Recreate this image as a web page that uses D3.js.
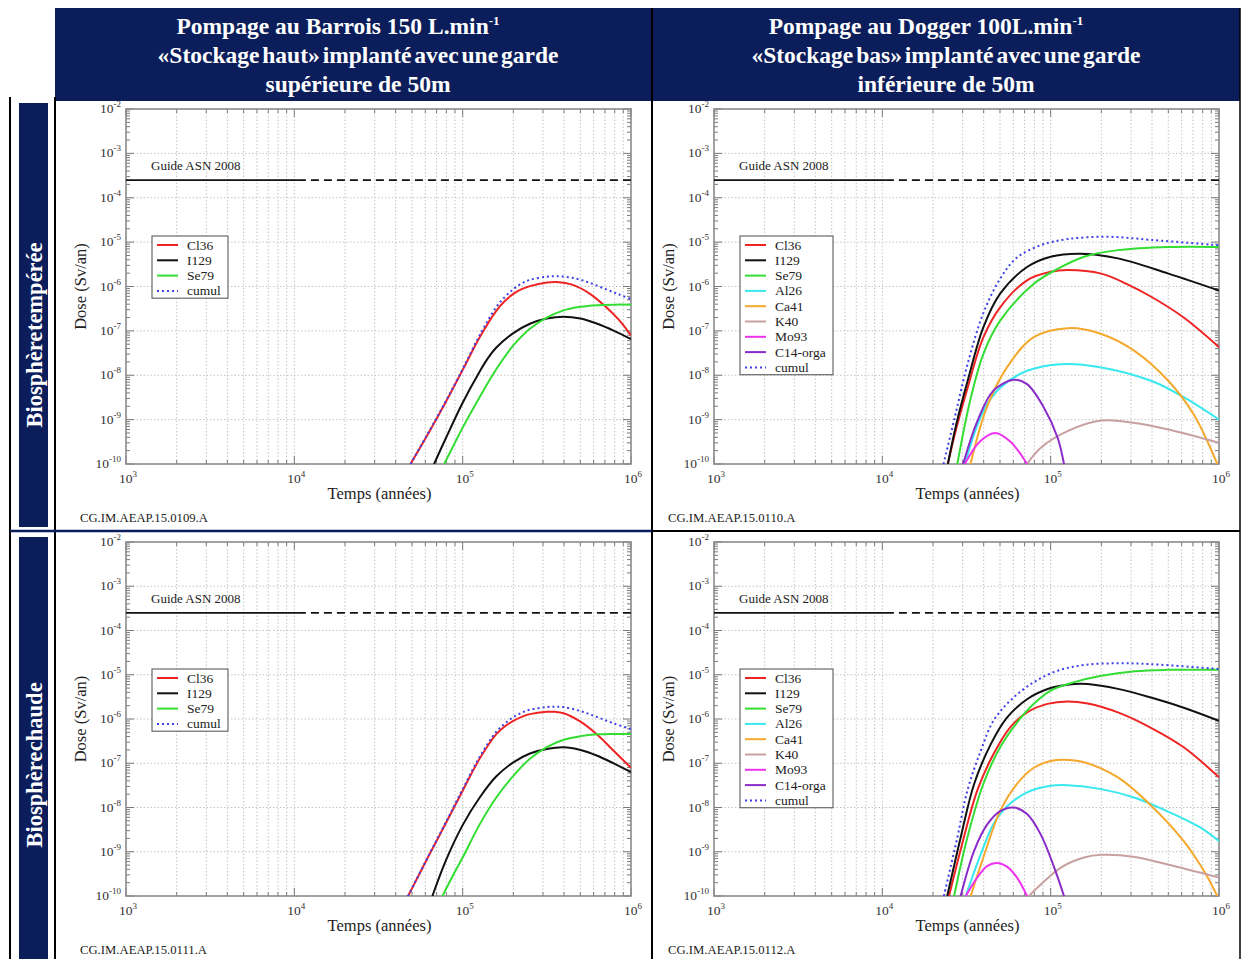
<!DOCTYPE html>
<html><head><meta charset="utf-8">
<script src="https://cdn.jsdelivr.net/npm/d3@7"></script>
<style>body{margin:0;background:#fff}svg{display:block}</style>
</head><body>
<svg id="c" width="1242" height="959"></svg>
<script>
// ---------- labels ----------
const headerLeft = ["Pompage au Barrois 150 L.min", "«Stockage haut» implanté avec une garde", "supérieure de 50m"];
const headerRight = ["Pompage au Dogger 100L.min", "«Stockage bas» implanté avec une garde", "inférieure de 50m"];
const rowLabels = ["Biosphère tempérée", "Biosphère chaude"];
const codes = ["CG.IM.AEAP.15.0109.A", "CG.IM.AEAP.15.0110.A", "CG.IM.AEAP.15.0111.A", "CG.IM.AEAP.15.0112.A"];
const xTickExp = [3, 4, 5, 6];
const yTickExp = [-2, -3, -4, -5, -6, -7, -8, -9, -10];
const guideValue = 2.5e-4;
const guideLabel = "Guide ASN 2008";
const xTitle = "Temps (années)";
const yTitle = "Dose (Sv/an)";
const namesBarrois = ["Cl36", "I129", "Se79", "cumul"];
const namesDogger = ["Cl36", "I129", "Se79", "Al26", "Ca41", "K40", "Mo93", "C14-orga", "cumul"];

// ---------- data: [years, Sv/an] ----------
// Barrois, biosphère tempérée
const p1_Cl36 = [[4.9e4,1e-10],[6.31e4,5.2e-10],[7.94e4,2.5e-9],[1.0e5,1.32e-8],[1.26e5,7.1e-8],[1.58e5,2.8e-7],[1.78e5,4.7e-7],[2.0e5,6.8e-7],[2.24e5,8.7e-7],[2.51e5,1.02e-6],[3.16e5,1.23e-6],[3.63e5,1.26e-6],[4.47e5,1.1e-6],[5.62e5,7.1e-7],[7.08e5,3.5e-7],[8.51e5,1.74e-7],[1e6,7.9e-8]];
const p1_I129 = [[6.76e4,1e-10],[7.94e4,3.8e-10],[1.0e5,2.4e-9],[1.26e5,1.2e-8],[1.41e5,2.4e-8],[1.58e5,4.17e-8],[2.0e5,8.9e-8],[2.51e5,1.45e-7],[3.16e5,1.9e-7],[3.98e5,2.09e-7],[5.01e5,1.9e-7],[6.31e5,1.45e-7],[7.94e5,1.0e-7],[1e6,6.5e-8]];
const p1_Se79 = [[7.76e4,1e-10],[8.91e4,2.8e-10],[1.0e5,6.6e-10],[1.26e5,3.2e-9],[1.58e5,1.35e-8],[2.0e5,4.7e-8],[2.51e5,1.12e-7],[3.16e5,2.0e-7],[3.98e5,2.9e-7],[5.01e5,3.5e-7],[6.31e5,3.8e-7],[7.94e5,3.9e-7],[1e6,3.9e-7]];
const p1_cumul = [[4.9e4,1e-10],[6.31e4,5.4e-10],[7.94e4,2.6e-9],[1.0e5,1.38e-8],[1.26e5,7.9e-8],[1.58e5,3.4e-7],[1.78e5,5.8e-7],[2.0e5,8.7e-7],[2.24e5,1.17e-6],[2.51e5,1.41e-6],[3.16e5,1.66e-6],[3.63e5,1.7e-6],[4.47e5,1.58e-6],[5.62e5,1.23e-6],[7.08e5,8.7e-7],[8.51e5,6.6e-7],[1e6,5.2e-7]];

// Dogger, biosphère tempérée
const p2_Cl36 = [[2.45e4,1e-10],[2.75e4,6.3e-10],[3.21e4,5.2e-9],[3.98e4,7.1e-8],[5.01e4,3.4e-7],[7.24e4,1.38e-6],[1.0e5,2.14e-6],[1.26e5,2.34e-6],[2.0e5,1.95e-6],[2.82e5,1.15e-6],[3.98e5,5.8e-7],[6.17e5,2.0e-7],[1e6,4.3e-8]];
const p2_I129 = [[2.45e4,1e-10],[2.75e4,7.9e-10],[3.21e4,7.4e-9],[3.98e4,1.2e-7],[5.01e4,6.9e-7],[7.24e4,2.75e-6],[1.0e5,4.7e-6],[1.51e5,5.5e-6],[2.51e5,4.3e-6],[5.01e5,1.95e-6],[1e6,8.1e-7]];
const p2_Se79 = [[2.79e4,1e-10],[3.31e4,2.5e-9],[3.98e4,3.0e-8],[5.01e4,1.7e-7],[7.94e4,1.15e-6],[1.1e5,2.5e-6],[1.58e5,4.7e-6],[2.51e5,6.6e-6],[5.01e5,7.8e-6],[1e6,7.8e-6]];
const p2_Al26 = [[3.09e4,1e-10],[3.98e4,1.55e-9],[5.01e4,5.2e-9],[7.24e4,1.26e-8],[1.15e5,1.78e-8],[2.0e5,1.5e-8],[3.98e5,7.4e-9],[6.17e5,3.2e-9],[1e6,1.0e-9]];
const p2_Ca41 = [[3.34e4,1e-10],[4.17e4,1.86e-9],[5.5e4,1.5e-8],[7.94e4,7.2e-8],[1.26e5,1.15e-7],[2.0e5,8.5e-8],[3.16e5,3.5e-8],[5.01e5,7.4e-9],[7.08e5,1.3e-9],[9.77e5,1e-10]];
const p2_K40 = [[7.24e4,1e-10],[8.71e4,2.3e-10],[1.26e5,5.5e-10],[2.0e5,9.5e-10],[3.09e5,8.5e-10],[5.01e5,6.0e-10],[1e6,3.0e-10]];
const p2_Mo93 = [[3.09e4,1e-10],[3.8e4,3.2e-10],[4.68e4,5.0e-10],[5.75e4,3.2e-10],[7.24e4,1e-10]];
const p2_C14 = [[3.02e4,1e-10],[3.67e4,9.3e-10],[4.57e4,4.5e-9],[6.03e4,7.9e-9],[7.24e4,6.3e-9],[9.12e4,1.86e-9],[1.1e5,3.9e-10],[1.2e5,1e-10]];
const p2_cumul = [[2.31e4,1e-10],[2.69e4,1.1e-9],[3.21e4,1.8e-8],[3.98e4,2.5e-7],[5.01e4,1.5e-6],[6.31e4,4.5e-6],[8.71e4,8.5e-6],[1.26e5,1.17e-5],[2.19e5,1.32e-5],[3.98e5,1.12e-5],[1e6,8.5e-6]];

// Barrois, biosphère chaude
const p3_Cl36 = [[4.74e4,1e-10],[6.31e4,8.3e-10],[7.94e4,4.4e-9],[1.0e5,2.4e-8],[1.26e5,1.26e-7],[1.58e5,4.5e-7],[1.78e5,6.8e-7],[2.0e5,9.1e-7],[2.24e5,1.12e-6],[2.51e5,1.29e-6],[3.16e5,1.45e-6],[3.55e5,1.45e-6],[3.98e5,1.35e-6],[5.01e5,8.7e-7],[6.31e5,4.4e-7],[7.94e5,1.86e-7],[1e6,7.9e-8]];
const p3_I129 = [[6.61e4,1e-10],[7.94e4,6.3e-10],[1.0e5,4.0e-9],[1.26e5,1.66e-8],[1.58e5,5.0e-8],[2.0e5,1.05e-7],[2.51e5,1.66e-7],[3.16e5,2.1e-7],[3.98e5,2.3e-7],[5.01e5,2.0e-7],[6.31e5,1.48e-7],[7.94e5,9.8e-8],[1e6,6.3e-8]];
const p3_Se79 = [[7.59e4,1e-10],[8.91e4,3.3e-10],[1.0e5,7.4e-10],[1.26e5,4.1e-9],[1.58e5,1.66e-8],[2.0e5,5.2e-8],[2.51e5,1.26e-7],[3.16e5,2.3e-7],[3.98e5,3.4e-7],[5.01e5,4.1e-7],[6.31e5,4.5e-7],[7.94e5,4.6e-7],[1e6,4.6e-7]];
const p3_cumul = [[4.74e4,1e-10],[6.31e4,8.5e-10],[7.94e4,4.6e-9],[1.0e5,2.6e-8],[1.26e5,1.38e-7],[1.58e5,5.1e-7],[1.78e5,7.9e-7],[2.0e5,1.1e-6],[2.24e5,1.38e-6],[2.51e5,1.62e-6],[3.16e5,1.86e-6],[3.55e5,1.9e-6],[3.98e5,1.86e-6],[5.01e5,1.51e-6],[6.31e5,1.1e-6],[7.94e5,7.9e-7],[1e6,5.9e-7]];

// Dogger, biosphère chaude
const p4_Cl36 = [[2.49e4,1e-10],[3.05e4,2.1e-9],[3.66e4,2.4e-8],[4.57e4,1.6e-7],[5.75e4,6.5e-7],[7.24e4,1.41e-6],[9.55e4,2.2e-6],[1.26e5,2.5e-6],[1.66e5,2.24e-6],[2.51e5,1.41e-6],[3.89e5,6.5e-7],[6.17e5,2.3e-7],[1e6,4.8e-8]];
const p4_I129 = [[2.43e4,1e-10],[2.92e4,2.1e-9],[3.51e4,3.4e-8],[4.41e4,2.7e-7],[5.5e4,1.07e-6],[7.24e4,2.8e-6],[1.0e5,5.0e-6],[1.38e5,6.2e-6],[1.66e5,6.2e-6],[2.51e5,4.8e-6],[3.89e5,3.1e-6],[6.17e5,1.8e-6],[1e6,9.1e-7]];
const p4_Se79 = [[2.67e4,1e-10],[3.2e4,2.1e-9],[3.98e4,3.4e-8],[5.01e4,2.3e-7],[6.31e4,8.3e-7],[7.94e4,2.2e-6],[1.0e5,4.4e-6],[1.38e5,6.8e-6],[2.0e5,9.5e-6],[3.16e5,1.2e-5],[4.9e5,1.29e-5],[1e6,1.29e-5]];
const p4_Al26 = [[3.13e4,1e-10],[3.84e4,8.7e-10],[4.57e4,4.2e-9],[5.5e4,1.05e-8],[7.24e4,2.2e-8],[1.0e5,3.1e-8],[1.26e5,3.2e-8],[2.0e5,2.6e-8],[3.16e5,1.66e-8],[4.9e5,8.3e-9],[7.76e5,3.5e-9],[1e6,1.74e-9]];
const p4_Ca41 = [[3.35e4,1e-10],[3.98e4,7.4e-10],[5.01e4,8.3e-9],[6.31e4,3.4e-8],[7.94e4,7.9e-8],[1.0e5,1.12e-7],[1.2e5,1.2e-7],[1.58e5,1.05e-7],[2.51e5,4.8e-8],[3.89e5,1.17e-8],[6.17e5,1.74e-9],[8.13e5,3.7e-10],[9.77e5,1e-10]];
const p4_K40 = [[7.41e4,1e-10],[8.71e4,1.8e-10],[1.15e5,4.4e-10],[1.58e5,7.4e-10],[2.0e5,8.5e-10],[3.16e5,7.6e-10],[4.9e5,5.2e-10],[1e6,2.6e-10]];
const p4_Mo93 = [[3.13e4,1e-10],[3.66e4,2.6e-10],[4.21e4,4.8e-10],[4.79e4,5.6e-10],[5.5e4,4.6e-10],[6.31e4,2.6e-10],[7.24e4,1e-10]];
const p4_C14 = [[2.92e4,1e-10],[3.51e4,1.05e-9],[4.21e4,4.2e-9],[5.01e4,8.3e-9],[6.03e4,1.0e-8],[7.24e4,7.1e-9],[8.71e4,2.5e-9],[1.05e5,4.4e-10],[1.2e5,1e-10]];
const p4_cumul = [[2.32e4,1e-10],[2.79e4,2.1e-9],[3.2e4,2.4e-8],[3.84e4,1.9e-7],[4.57e4,9.1e-7],[5.75e4,2.6e-6],[7.94e4,6.8e-6],[1.1e5,1.23e-5],[1.58e5,1.66e-5],[2.51e5,1.82e-5],[3.89e5,1.74e-5],[1e6,1.35e-5]];

// ---------- styles ----------
const NAVY = "#0b1e5b";
const SERIF = "'Liberation Serif','Times New Roman',Times,serif";
const colorOf = {"Cl36":"#ee2424","I129":"#111111","Se79":"#33dd33","Al26":"#38e8ee","Ca41":"#f4a82c","K40":"#c8a0a0","Mo93":"#ee33ee","C14-orga":"#8a2cc8","cumul":"#3f3fe8"};

const svg = d3.select("#c");

// ---------- table frame ----------
svg.append("rect").attr("x",55).attr("y",8).attr("width",1185).attr("height",93).attr("fill",NAVY);
svg.append("line").attr("x1",652).attr("x2",652).attr("y1",8).attr("y2",959).attr("stroke","#000").attr("stroke-width",2);
svg.append("line").attr("x1",1240).attr("x2",1240).attr("y1",8).attr("y2",959).attr("stroke","#000").attr("stroke-width",1.5);
svg.append("line").attr("x1",10).attr("x2",10).attr("y1",97).attr("y2",959).attr("stroke","#000").attr("stroke-width",2);
svg.append("line").attr("x1",55).attr("x2",55).attr("y1",97).attr("y2",959).attr("stroke","#000").attr("stroke-width",2);
svg.append("line").attr("x1",10).attr("x2",652).attr("y1",531).attr("y2",531).attr("stroke",NAVY).attr("stroke-width",2.5);
svg.append("line").attr("x1",652).attr("x2",1240).attr("y1",531).attr("y2",531).attr("stroke","#000").attr("stroke-width",2);

function header(lines, cx) {
  const ys = [34, 63, 92];
  const dx = [-20, 0, 0];
  lines.forEach((s, i) => {
    const t = svg.append("text").attr("x", cx + dx[i]).attr("y", ys[i]).attr("text-anchor","middle")
      .attr("fill","#fff").attr("font-family",SERIF).attr("font-weight","bold").attr("font-size",23.5)
      .attr("word-spacing", i === 1 ? "-3px" : "0px");
    t.append("tspan").text(s);
    if (i === 0) t.append("tspan").attr("dy",-9).attr("font-size",13).text("-1");
  });
}
header(headerLeft, 358);
header(headerRight, 946);

// side labels
[[103,527,335],[537,959,765]].forEach((b,i) => {
  svg.append("rect").attr("x",19).attr("y",b[0]).attr("width",29).attr("height",b[1]-b[0]).attr("fill",NAVY);
  svg.append("text").attr("transform",`translate(42,${b[2]}) rotate(-90)`).attr("text-anchor","middle")
    .attr("fill","#fff").attr("font-family",SERIF).attr("font-weight","bold").attr("font-size",22.5)
    .attr("word-spacing","-5px").text(rowLabels[i]);
});

// ---------- panels ----------
const panels = [
  {x0:126, x1:631, y0:109, y1:464, names:namesBarrois, code:codes[0], data:{"Cl36":p1_Cl36,"I129":p1_I129,"Se79":p1_Se79,"cumul":p1_cumul}},
  {x0:714, x1:1219, y0:109, y1:464, names:namesDogger, code:codes[1], data:{"Cl36":p2_Cl36,"I129":p2_I129,"Se79":p2_Se79,"Al26":p2_Al26,"Ca41":p2_Ca41,"K40":p2_K40,"Mo93":p2_Mo93,"C14-orga":p2_C14,"cumul":p2_cumul}},
  {x0:126, x1:631, y0:542, y1:896, names:namesBarrois, code:codes[2], data:{"Cl36":p3_Cl36,"I129":p3_I129,"Se79":p3_Se79,"cumul":p3_cumul}},
  {x0:714, x1:1219, y0:542, y1:896, names:namesDogger, code:codes[3], data:{"Cl36":p4_Cl36,"I129":p4_I129,"Se79":p4_Se79,"Al26":p4_Al26,"Ca41":p4_Ca41,"K40":p4_K40,"Mo93":p4_Mo93,"C14-orga":p4_C14,"cumul":p4_cumul}}
];

panels.forEach((p, pi) => {
  const x = d3.scaleLog().domain([1e3, 1e6]).range([p.x0, p.x1]);
  const y = d3.scaleLog().domain([1e-10, 1e-2]).range([p.y1, p.y0]);
  const g = svg.append("g");
  const clipId = "clip" + pi;
  svg.append("clipPath").attr("id", clipId).append("rect")
    .attr("x", p.x0).attr("y", p.y0).attr("width", p.x1 - p.x0).attr("height", p.y1 - p.y0);

  const xAll = [];
  for (let e = 3; e < 6; e++) for (let k = 1; k <= 9; k++) xAll.push(k * Math.pow(10, e));
  xAll.push(1e6);
  const yMinor = [];
  for (let e = -10; e < -2; e++) for (let k = 2; k <= 9; k++) yMinor.push(k * Math.pow(10, e));
  const yMajor = yTickExp.map(e => Math.pow(10, e));

  // grid
  g.selectAll(null).data(xAll.filter(v => v > 1e3 && v < 1e6)).enter().append("line")
    .attr("x1", d => x(d)).attr("x2", d => x(d)).attr("y1", p.y0).attr("y2", p.y1)
    .attr("stroke", "#c4c4c4").attr("stroke-width", 1).attr("stroke-dasharray", "1.5,2");
  g.selectAll(null).data(yMajor.filter(v => v > 1e-10 && v < 1e-2)).enter().append("line")
    .attr("x1", p.x0).attr("x2", p.x1).attr("y1", d => y(d)).attr("y2", d => y(d))
    .attr("stroke", "#c4c4c4").attr("stroke-width", 1).attr("stroke-dasharray", "1.5,2");

  // ticks (inward, all sides)
  const tk = "#7a7a7a";
  const xMaj = xTickExp.map(e => Math.pow(10, e));
  [[p.y1, -1], [p.y0, 1]].forEach(([yy, dir]) => {
    g.selectAll(null).data(xAll).enter().append("line")
      .attr("x1", d => x(d)).attr("x2", d => x(d)).attr("y1", yy)
      .attr("y2", d => yy + dir * (xMaj.includes(d) ? 8 : 4)).attr("stroke", tk).attr("stroke-width", 1);
  });
  [[p.x0, 1], [p.x1, -1]].forEach(([xx, dir]) => {
    g.selectAll(null).data(yMinor).enter().append("line")
      .attr("y1", d => y(d)).attr("y2", d => y(d)).attr("x1", xx).attr("x2", xx + dir * 4)
      .attr("stroke", tk).attr("stroke-width", 1);
    g.selectAll(null).data(yMajor).enter().append("line")
      .attr("y1", d => y(d)).attr("y2", d => y(d)).attr("x1", xx).attr("x2", xx + dir * 8)
      .attr("stroke", tk).attr("stroke-width", 1);
  });

  // frame
  g.append("rect").attr("x", p.x0).attr("y", p.y0).attr("width", p.x1 - p.x0).attr("height", p.y1 - p.y0)
    .attr("fill", "none").attr("stroke", "#8a8a8a").attr("stroke-width", 1.6);

  // tick labels
  yTickExp.forEach(e => {
    const t = g.append("text").attr("x", p.x0 - 5).attr("y", y(Math.pow(10, e)) + 4)
      .attr("text-anchor", "end").attr("font-family", SERIF).attr("font-size", 13.5).attr("fill", "#333");
    t.append("tspan").text("10");
    t.append("tspan").attr("dy", -6).attr("font-size", 9).text(String(e));
  });
  xTickExp.forEach(e => {
    const t = g.append("text").attr("x", x(Math.pow(10, e)) - 7).attr("y", p.y1 + 19)
      .attr("font-family", SERIF).attr("font-size", 13.5).attr("fill", "#333");
    t.append("tspan").text("10");
    t.append("tspan").attr("dy", -6).attr("font-size", 9).text(String(e));
  });

  // axis titles
  g.append("text").attr("transform", `translate(${p.x0 - 40},${(p.y0 + p.y1) / 2}) rotate(-90)`)
    .attr("text-anchor", "middle").attr("font-family", SERIF).attr("font-size", 16.5).attr("fill", "#222").text(yTitle);
  g.append("text").attr("x", (p.x0 + p.x1) / 2 + 1).attr("y", p.y1 + 35).attr("text-anchor", "middle")
    .attr("font-family", SERIF).attr("font-size", 16.5).attr("fill", "#222").text(xTitle);
  g.append("text").attr("x", p.x0 - 46).attr("y", p.y1 + 58).attr("font-family", SERIF)
    .attr("font-size", 12.7).attr("fill", "#222").text(p.code);

  // guide line
  g.append("line").attr("x1", x(1e3)).attr("x2", x(1.05e4)).attr("y1", y(guideValue)).attr("y2", y(guideValue))
    .attr("stroke", "#111").attr("stroke-width", 1.8);
  g.append("line").attr("x1", x(1.05e4)).attr("x2", x(1e6)).attr("y1", y(guideValue)).attr("y2", y(guideValue))
    .attr("stroke", "#111").attr("stroke-width", 1.8).attr("stroke-dasharray", "8,5");
  g.append("text").attr("x", p.x0 + 25).attr("y", y(guideValue) - 10).attr("font-family", SERIF)
    .attr("font-size", 13).attr("fill", "#222").text(guideLabel);

  // curves
  const line = d3.line().x(d => x(d[0])).y(d => y(d[1])).curve(d3.curveCatmullRom.alpha(0.5));
  const cg = g.append("g").attr("clip-path", `url(#${clipId})`);
  p.names.forEach(n => {
    cg.append("path").datum(p.data[n]).attr("d", line).attr("fill", "none")
      .attr("stroke", colorOf[n]).attr("stroke-width", 2)
      .attr("stroke-dasharray", n === "cumul" ? "2,3" : null);
  });

  // legend
  const lx = p.x0 + 26, ly = p.y0 + 127;
  const rowH = 15.3;
  const lw = p.names.length > 4 ? 93 : 76;
  const lh = p.names.length * rowH + 1;
  g.append("rect").attr("x", lx).attr("y", ly).attr("width", lw).attr("height", lh)
    .attr("fill", "#fff").attr("stroke", "#6a6a6a").attr("stroke-width", 1.2);
  p.names.forEach((n, i) => {
    const yy = ly + 9 + i * rowH;
    g.append("line").attr("x1", lx + 5).attr("x2", lx + 26).attr("y1", yy).attr("y2", yy)
      .attr("stroke", colorOf[n]).attr("stroke-width", 2).attr("stroke-dasharray", n === "cumul" ? "2,3" : null);
    g.append("text").attr("x", lx + 35).attr("y", yy + 4.5).attr("font-family", SERIF).attr("font-size", 13.5)
      .attr("fill", "#222").text(n);
  });
});
</script>
</body></html>
